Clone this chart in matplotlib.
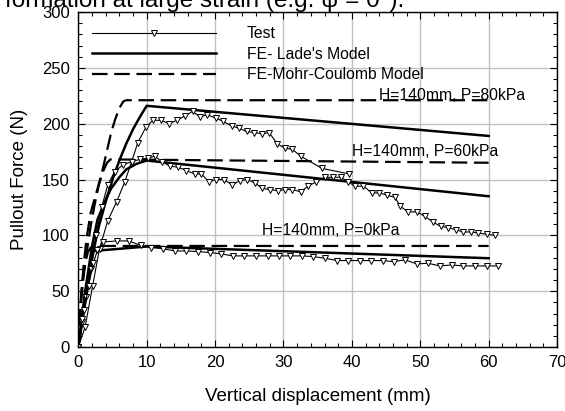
import matplotlib
matplotlib.use('Agg')
import matplotlib.pyplot as plt
from matplotlib.lines import Line2D
from matplotlib.ticker import MultipleLocator

plt.rcParams['font.family'] = ['Liberation Sans', 'DejaVu Sans']

# Test data (pullout force vs vertical displacement)
test80_x = [0, 1, 2.1, 3.1, 4.3, 5.6, 6.8, 7.8, 8.7, 9.9,
            10.9, 12.1, 13.3, 14.4, 15.6, 16.7, 17.8, 18.8, 20.1, 21.2,
            22.4, 23.5, 24.6, 25.7, 26.8, 27.9, 29.1, 30.2, 31.3, 32.5,
            35.6, 39.6]
test80_y = [0, 18, 55, 88, 113, 130, 148, 166, 183, 197,
            203, 203, 200, 203, 207, 211, 206, 208, 205, 202,
            198, 196, 193, 192, 191, 192, 182, 178, 177, 171,
            160, 155]

test60_x = [0, 0.6, 1.1, 1.8, 2.6, 3.4, 4.3, 5.3, 6.5, 7.8,
            9.0, 10.2, 11.2, 12.2, 13.4, 14.6, 15.8, 17.0, 18.0, 19.1,
            20.2, 21.3, 22.5, 23.6, 24.7, 25.8, 26.9, 28.0, 29.2, 30.2,
            31.3, 32.5, 33.6, 34.8, 36.1, 37.3, 38.4, 39.5, 40.4, 41.7,
            42.9, 44.0, 45.1, 46.3, 47.1, 48.2, 49.5, 50.7, 51.8, 53.0,
            54.1, 55.2, 56.3, 57.4, 58.5, 59.7, 60.9]
test60_y = [0, 22, 45, 70, 100, 125, 145, 157, 163, 166,
            168, 169, 171, 166, 162, 161, 158, 155, 155, 148,
            150, 150, 145, 149, 150, 147, 142, 141, 140, 141,
            141, 139, 144, 148, 152, 152, 152, 148, 144, 144,
            138, 138, 136, 134, 126, 121, 121, 117, 112, 108,
            107, 105, 103, 103, 102, 101, 100]

test0_x = [0, 0.6, 0.9, 1.5, 2.2, 2.8, 3.6, 5.6, 7.4, 9.1,
           10.7, 12.4, 14.1, 15.8, 17.5, 19.2, 20.9, 22.6, 24.3, 26.0,
           27.7, 29.3, 31.0, 32.7, 34.3, 36.1, 37.8, 39.5, 41.2, 42.8,
           44.5, 46.1, 47.8, 49.5, 51.1, 52.9, 54.6, 56.3, 58.0, 59.7,
           61.4]
test0_y = [0, 25, 33, 55, 75, 87, 94, 95, 95, 91,
           89, 88, 86, 86, 85.5, 84.6, 83.4, 81.6, 81.6, 81.6,
           81.6, 81.6, 81.6, 81.6, 81, 79.5, 77.4, 77.4, 77.4, 77.4,
           77.4, 76.5, 78, 74.4, 75, 72.6, 73.5, 72.6, 72.6, 72.6,
           72.6]

# FE - Lade's model
lade80_x = [0, 1, 2, 3, 4, 5, 6, 7, 8, 9, 10, 60]
lade80_y = [0, 45, 80, 108, 130, 150, 167, 182, 195, 206, 216, 189]
lade60_x = [0, 1, 2, 2.8, 4, 4.8, 6, 7, 8.5, 10, 60]
lade60_y = [0, 50, 90, 114, 132, 142, 152, 159, 164, 167, 135]
lade0_x = [0, 2.2, 10, 60]
lade0_y = [0, 86, 90, 79.5]

# FE - Mohr-Coulomb model
mc80_x = [0, 0.4, 0.8, 1.2, 1.8, 2.4, 3.0, 3.6, 4.2, 4.8, 5.4, 6.0, 6.6, 7.0, 60]
mc80_y = [0, 45, 75, 97, 120, 133, 146, 160, 176, 192, 204, 214, 220, 221, 221]
mc60_x = [0, 0.4, 0.8, 1.3, 1.8, 2.4, 3.0, 3.6, 4.2, 4.7, 60]
mc60_y = [0, 40, 65, 88, 108, 128, 145, 157, 165, 168, 165]
mc0_x = [0, 0.3, 0.6, 1.0, 1.4, 1.8, 2.2, 60]
mc0_y = [0, 35, 58, 75, 85, 89, 90.5, 90.5]

labels = ['Test', "FE- Lade's Model", 'FE-Mohr-Coulomb Model']
case_text = ['H=140mm, P=80kPa', 'H=140mm, P=60kPa', 'H=140mm, P=0kPa']

fig = plt.figure(figsize=(5.65, 4.11), dpi=100)
ax = fig.add_axes([0.1386, 0.1557, 0.8473, 0.8151])

test_style = dict(color='black', lw=0.8, marker='v', ms=4.8, mfc='white',
                  mec='black', mew=0.7)
lade_style = dict(color='black', lw=1.8)
mc_style = dict(color='black', lw=1.6, ls=(0, (7, 3)))

for x, y in [(mc80_x, mc80_y), (mc60_x, mc60_y), (mc0_x, mc0_y)]:
    ax.plot(x, y, **mc_style)
for x, y in [(lade80_x, lade80_y), (lade60_x, lade60_y), (lade0_x, lade0_y)]:
    ax.plot(x, y, **lade_style)
for x, y in [(test80_x, test80_y), (test60_x, test60_y), (test0_x, test0_y)]:
    ax.plot(x, y, **test_style)

# case labels
ax.text(44.0, 221.5, case_text[0], fontsize=11.3, va='baseline')
ax.text(40.0, 171, case_text[1], fontsize=11.3, va='baseline')
ax.text(26.8, 100.5, case_text[2], fontsize=11.3, va='baseline')

# legend
handles = [Line2D([], [], **test_style),
           Line2D([], [], **lade_style),
           Line2D([], [], **mc_style)]
ax.legend(handles, labels, loc='upper left', bbox_to_anchor=(0.0286, 0.958),
          frameon=False, fontsize=11.3, handlelength=7.9, handletextpad=1.95,
          labelspacing=0.36, borderpad=0, borderaxespad=0, numpoints=1)

ax.set_xlim(0, 70)
ax.set_ylim(0, 300)
ax.xaxis.set_major_locator(MultipleLocator(10))
ax.xaxis.set_minor_locator(MultipleLocator(2))
ax.yaxis.set_major_locator(MultipleLocator(50))
ax.yaxis.set_minor_locator(MultipleLocator(10))
ax.tick_params(which='both', direction='in', top=True, right=True,
               labelsize=12, width=0.8)
ax.tick_params(which='major', length=5, pad=6)
ax.tick_params(which='minor', length=3)
ax.grid(True, which='major', color='#c0c0c0', lw=1)
ax.set_axisbelow(True)
for s in ax.spines.values():
    s.set_linewidth(1)

ax.set_xlabel('Vertical displacement (mm)', fontsize=13.5, labelpad=13)
ax.set_ylabel('Pullout Force (N)', fontsize=13.5, labelpad=10)

# clipped caption text at the very top
fig.text(0.009, 1 - 6.5 / 411, 'formation at large strain (e.g. ψ = 0°).',
         fontsize=17.5, va='baseline', ha='left')

fig.savefig('out.png', dpi=100)
